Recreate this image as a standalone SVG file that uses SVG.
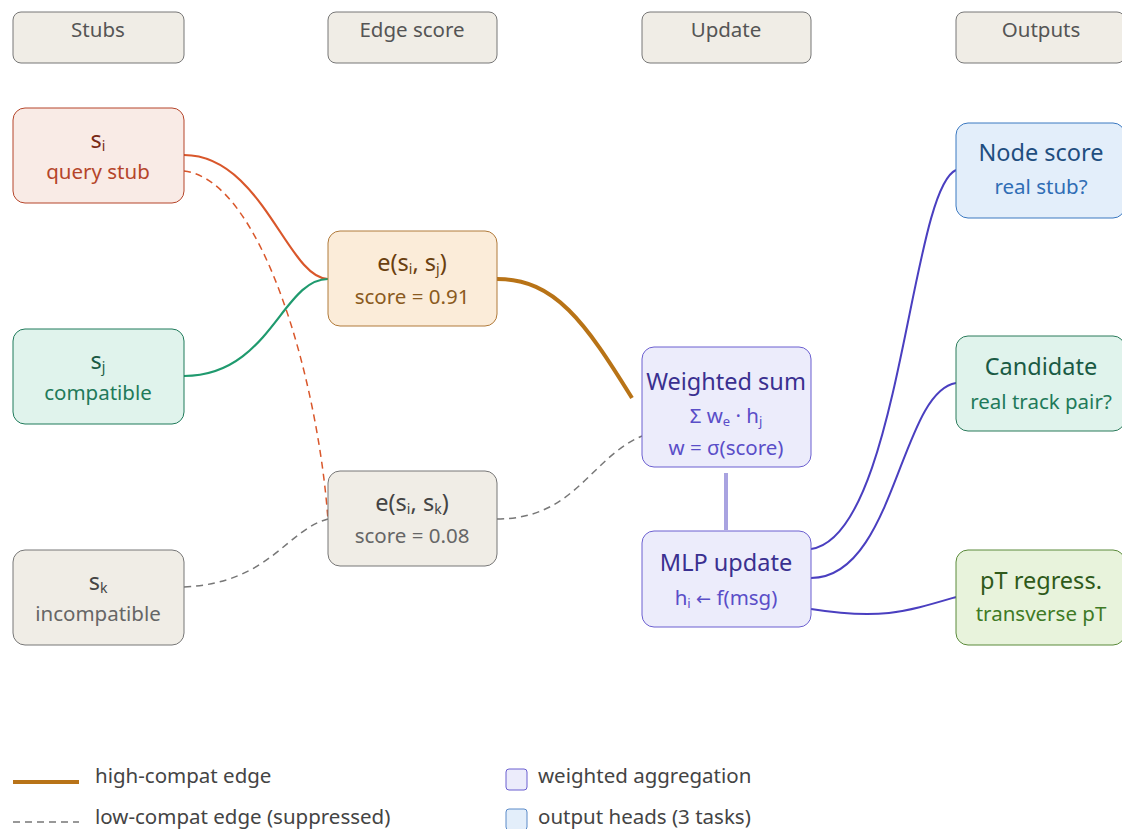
<svg xmlns="http://www.w3.org/2000/svg" width="1122" height="829" viewBox="0 0 1122 829">
  <defs>
    <filter id="soft" x="-10%" y="-10%" width="120%" height="120%">
      <feGaussianBlur stdDeviation="0.7"/>
    </filter>
  </defs>
  <style>
    text { font-family: "Noto Sans", "Open Sans", sans-serif; text-anchor: middle; }
    .hdr rect { fill: #f0ede6; stroke: #777; stroke-width: 1; }
    .hdr text { font-size: 20.5px; fill: #555; }
    .t { font-size: 23.5px; }
    .s { font-size: 20.5px; }
    .leg { font-size: 20.5px; fill: #444; text-anchor: start; }
    .edge { fill: none; }
    .arrow { font-family: "DejaVu Sans", sans-serif; font-size: 18px; }
  </style>
  <rect width="1122" height="829" fill="#ffffff"/>

  <!-- column headers -->
  <g id="hdr-stubs" class="hdr"><rect x="13" y="12" width="171" height="51" rx="8"/><text x="98" y="37">Stubs</text></g>
  <g id="hdr-edge" class="hdr"><rect x="328" y="12" width="169" height="51" rx="8"/><text x="412" y="37">Edge score</text></g>
  <g id="hdr-update" class="hdr"><rect x="642" y="12" width="169" height="51" rx="8"/><text x="726" y="37">Update</text></g>
  <g id="hdr-outputs" class="hdr"><rect x="956" y="12" width="169" height="51" rx="8"/><text x="1041" y="37">Outputs</text></g>

  <!-- connectors -->
  <g id="connectors" class="edge">
    <path d="M184,155 C262,155 288,279 328,279" stroke="#d9572b" stroke-width="2.2"/>
    <path d="M184,376 C270,376 282,279 328,279" stroke="#1f9a6e" stroke-width="2.2"/>
    <path d="M184,171 C262,180 318,380 328,520" stroke="#d9572b" stroke-width="1.5" stroke-dasharray="7,5"/>
    <path d="M184,587 C270,583 286,530 328,519" stroke="#777" stroke-width="1.5" stroke-dasharray="7,5"/>
    <path d="M497,279 C555,279 585,322 632,398" stroke="#b87318" stroke-width="4" filter="url(#soft)"/>
    <path d="M497,519 C575,519 590,458 642,436" stroke="#777" stroke-width="1.5" stroke-dasharray="7,5"/>
    <path d="M726,473 L726,530" stroke="#a9a3e0" stroke-width="4"/>
    <path d="M811,549 C900,536 910,190 956,170" stroke="#4a3fc0" stroke-width="2"/>
    <path d="M811,578 C895,578 900,392 956,383" stroke="#4a3fc0" stroke-width="2"/>
    <path d="M811,609 C880,620 905,612 956,597" stroke="#4a3fc0" stroke-width="2"/>
  </g>

  <!-- stubs -->
  <g id="node-si">
    <rect x="13" y="108" width="171" height="95" rx="12" fill="#f9ebe6" stroke="#b5452a"/>
    <text x="98" y="148" class="t" fill="#7a2a15">s<tspan font-size="14" dy="3">i</tspan></text>
    <text x="98" y="179" class="s" fill="#b5452a">query stub</text>
  </g>
  <g id="node-sj">
    <rect x="13" y="329" width="171" height="95" rx="12" fill="#e0f3ec" stroke="#1f7a5a"/>
    <text x="98" y="369" class="t" fill="#1a5a44">s<tspan font-size="14" dy="3">j</tspan></text>
    <text x="98" y="400" class="s" fill="#1f7a5a">compatible</text>
  </g>
  <g id="node-sk">
    <rect x="13" y="550" width="171" height="95" rx="12" fill="#f0ede6" stroke="#777"/>
    <text x="98" y="590" class="t" fill="#444">s<tspan font-size="14" dy="3">k</tspan></text>
    <text x="98" y="621" class="s" fill="#666">incompatible</text>
  </g>

  <!-- edge scores -->
  <g id="node-eij">
    <rect x="328" y="231" width="169" height="95" rx="12" fill="#fbecd9" stroke="#b07a3a"/>
    <text x="412" y="271" class="t" fill="#6a4010">e(s<tspan font-size="14" dy="3">i</tspan><tspan dy="-3">, s</tspan><tspan font-size="14" dy="3">j</tspan><tspan dy="-3">)</tspan></text>
    <text x="412" y="304" class="s" fill="#8a5a20">score = 0.91</text>
  </g>
  <g id="node-eik">
    <rect x="328" y="471" width="169" height="95" rx="12" fill="#f0ede6" stroke="#777"/>
    <text x="412" y="511" class="t" fill="#444">e(s<tspan font-size="14" dy="3">i</tspan><tspan dy="-3">, s</tspan><tspan font-size="14" dy="3">k</tspan><tspan dy="-3">)</tspan></text>
    <text x="412" y="543" class="s" fill="#666">score = 0.08</text>
  </g>

  <!-- update -->
  <g id="node-wsum">
    <rect x="642" y="347" width="169" height="120" rx="12" fill="#ececfb" stroke="#6b5fd0"/>
    <text x="726" y="390" class="t" fill="#3a3090">Weighted sum</text>
    <text x="726" y="423" class="s" fill="#5a4ec8">Σ w<tspan font-size="13" dy="3">e</tspan><tspan dy="-3"> · h</tspan><tspan font-size="13" dy="3">j</tspan></text>
    <text x="726" y="455" class="s" fill="#5a4ec8">w = σ(score)</text>
  </g>
  <g id="node-mlp">
    <rect x="642" y="531" width="169" height="96" rx="12" fill="#ececfb" stroke="#6b5fd0"/>
    <text x="726" y="571" class="t" fill="#3a3090">MLP update</text>
    <text x="726" y="605" class="s" fill="#5a4ec8">h<tspan font-size="13" dy="3">i</tspan><tspan dy="-3"> </tspan><tspan class="arrow">←</tspan><tspan> f(msg)</tspan></text>
  </g>

  <!-- outputs -->
  <g id="node-nodescore">
    <rect x="956" y="123" width="169" height="95" rx="12" fill="#e3eefa" stroke="#3a78c0"/>
    <text x="1041" y="161" class="t" fill="#1f4e80">Node score</text>
    <text x="1041" y="194" class="s" fill="#2f6db5">real stub?</text>
  </g>
  <g id="node-candidate">
    <rect x="956" y="336" width="169" height="95" rx="12" fill="#e0f3ec" stroke="#2a7a5a"/>
    <text x="1041" y="375" class="t" fill="#1a5a44">Candidate</text>
    <text x="1041" y="409" class="s" fill="#1f7a5a">real track pair?</text>
  </g>
  <g id="node-pt">
    <rect x="956" y="550" width="169" height="95" rx="12" fill="#e8f3dc" stroke="#5a8a3a"/>
    <text x="1041" y="589" class="t" fill="#2f5a1a">pT regress.</text>
    <text x="1041" y="621" class="s" fill="#3f7a25">transverse pT</text>
  </g>

  <!-- legend -->
  <g id="legend">
    <line x1="13" y1="782" x2="79" y2="782" stroke="#b87318" stroke-width="4"/>
    <text x="95" y="783" class="leg">high-compat edge</text>
    <line x1="13" y1="822" x2="79" y2="822" stroke="#777" stroke-width="1.5" stroke-dasharray="7,5"/>
    <text x="95" y="824" class="leg">low-compat edge (suppressed)</text>
    <rect x="506" y="769" width="21" height="21" rx="3" fill="#ececfb" stroke="#6b5fd0"/>
    <text x="538" y="783" class="leg">weighted aggregation</text>
    <rect x="506" y="809" width="21" height="21" rx="3" fill="#e3eefa" stroke="#5a8ac8"/>
    <text x="538" y="824" class="leg">output heads (3 tasks)</text>
  </g>
</svg>
